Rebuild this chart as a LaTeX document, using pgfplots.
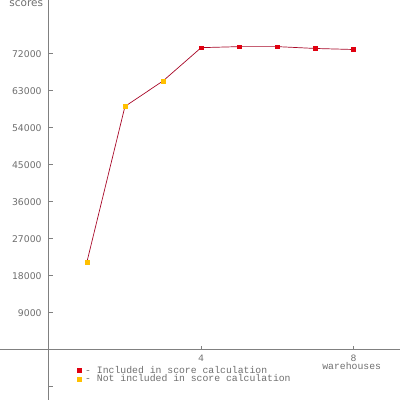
\documentclass[border=0pt]{standalone}
\usepackage{fontspec}
\setmainfont{DejaVu Sans}
\newfontfamily\monof{Liberation Mono}
\usepackage{pgfplots}
\pgfplotsset{compat=1.18}
\definecolor{axgray}{HTML}{808080}
\definecolor{txtgray}{HTML}{6E6E6E}
\definecolor{lred}{HTML}{A80828}
\definecolor{mred}{HTML}{E00010}
\definecolor{morange}{HTML}{FFC000}
\begin{document}
\begin{tikzpicture}
\begin{axis}[
 scale only axis, width=400pt, height=400pt,
 xmin=-1.27, xmax=9.21, ymin=-12150, ymax=85000,
 axis lines=middle,
 axis line style={-, axgray, line width=0.8pt},
 tick style={axgray, line width=0.8pt},
 tick align=inside, major tick length=4pt,
 xtick={4,8}, ytick={9000,18000,...,72000},
 scaled y ticks=false, scaled x ticks=false,
 extra y ticks={-9000}, extra y tick labels={},
 extra y tick style={tick style={axgray, line width=0.8pt}},
 /pgf/number format/.cd, 1000 sep={}, fixed, precision=0, assume math mode=true, /pgfplots/.cd,
 yticklabel style={font=\fontsize{9.3}{10}\selectfont, text=txtgray, inner sep=0pt, anchor=east, xshift=-7pt},
 xticklabel style={font=\monof\fontsize{9.8}{10}\selectfont, text=txtgray, inner sep=0pt, anchor=north, yshift=-5pt},
 xlabel={warehouses}, ylabel={scores},
 x label style={at={(rel axis cs:0.88,0.093)}, anchor=north, inner sep=0pt, font=\monof\fontsize{9.8}{10}\selectfont, text=txtgray},
 y label style={at={(rel axis cs:0.1075,1)}, anchor=north east, inner sep=0pt, rotate=0, font=\fontsize{10.5}{10}\selectfont, text=txtgray},
 legend style={at={(rel axis cs:0.185,0.087)}, anchor=north west, draw=none, fill=none,
   font=\monof\fontsize{9.8}{10}\selectfont, text=txtgray,
   nodes={inner sep=0pt, text height=6pt, text depth=1pt}, row sep=1.5pt},
 legend cell align=left,
 legend image code/.code={\draw[#1] plot coordinates {(0pt,0pt)};},
 clip=false,
]
\addplot[lred, line width=0.7pt, forget plot] coordinates {
 (1,21300) (2,59200) (3,65400) (4,73500) (5,73750) (6,73750) (7,73300) (8,73050)};
\addplot[only marks, mark=square*, mark size=1.9pt, mark options={mred, draw=mred, fill=mred}] coordinates {
 (4,73500) (5,73750) (6,73750) (7,73300) (8,73050)};
\addlegendentry{\hspace{4pt}- Included in score calculation}
\addplot[only marks, mark=square*, mark size=1.9pt, mark options={morange, draw=morange, fill=morange}] coordinates {
 (1,21300) (2,59200) (3,65400)};
\addlegendentry{\hspace{4pt}- Not included in score calculation}
\end{axis}
\end{tikzpicture}
\end{document}
